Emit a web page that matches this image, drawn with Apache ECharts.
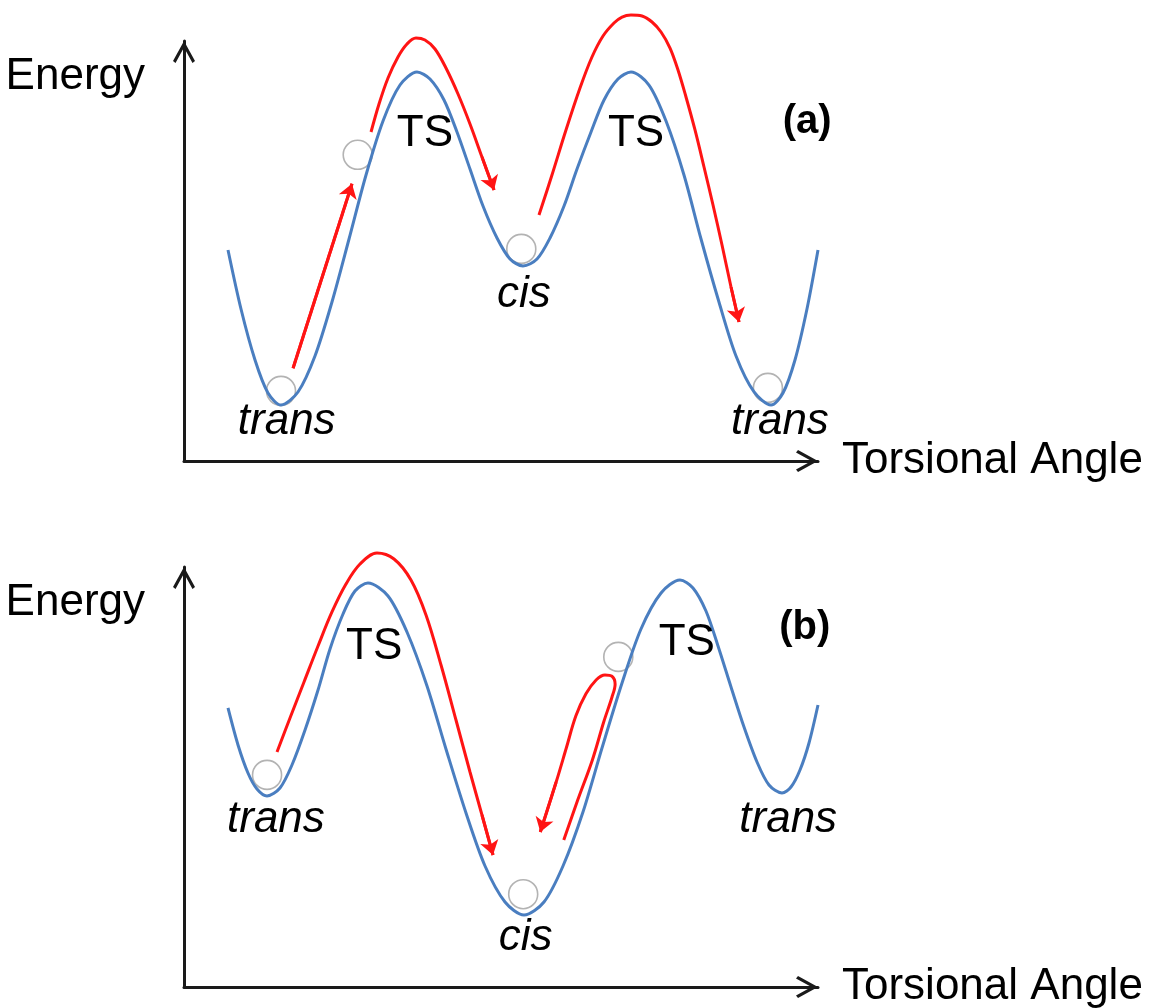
<!DOCTYPE html>
<html>
<head>
<meta charset="utf-8">
<script src="https://cdn.jsdelivr.net/npm/echarts/dist/echarts.min.js"></script>
<style>
html,body{margin:0;padding:0;background:#ffffff;}
#main{width:1149px;height:1008px;}
</style>
</head>
<body>
<div id="main"></div>
<script>
// ---------- Panel (a): torsional angle (0-100) vs energy (0-100) ----------
const curveA = [
  [6.94,50.24],[8.99,36.19],[11.20,24.05],[13.25,16.19],[15.30,13.33],
  [17.98,16.43],[20.66,25.00],[23.34,37.86],[26.03,52.86],[28.71,68.10],[31.39,80.95],
  [34.07,89.52],[36.75,92.62],
  [38.80,90.95],[41.01,85.95],[43.06,78.33],[45.11,69.52],[47.16,60.71],[49.37,53.10],
  [51.42,48.10],[53.47,46.43],
  [55.68,48.10],[57.73,53.10],[59.94,60.71],[61.99,69.52],[64.20,78.33],[66.25,85.95],
  [68.45,90.95],[70.50,92.62],
  [73.34,89.52],[76.03,80.95],[78.86,68.10],[81.55,52.86],[84.38,37.86],[87.07,25.00],
  [89.91,16.43],[92.59,13.33],
  [94.48,16.19],[96.37,24.05],[98.26,36.19],[100.0,50.24]
];
const arrowA1 = [[17.2,22.1],[26.5,66.0]];
const arrowA2 = [[29.50,78.33],[30.76,85.00],[32.18,91.19],[33.75,96.19],[35.17,99.29],
  [36.59,100.71],[38.01,100.24],[39.59,98.10],[41.32,93.57],[43.22,87.38],[45.11,80.24],
  [47.00,72.38],[48.90,64.52]];
const arrowA3 = [[55.99,58.57],[58.04,68.10],[60.25,78.81],[62.46,88.81],[64.35,96.19],
  [66.09,101.19],[67.82,104.29],[69.09,105.71],[70.50,106.19],[72.24,105.95],[73.82,104.52],
  [75.24,102.14],[76.66,98.33],[77.92,93.10],[79.18,86.67],[80.60,78.81],[82.02,70.00],
  [83.44,60.95],[84.86,51.43],[86.28,41.43],[87.54,33.10]];
const ballsA = [[15.3,16.7],[27.4,72.9],[53.2,50.5],[92.1,17.4]];
const statesA = [[16.2,9.3,'trans'],[53.6,39.5,'cis'],[94.0,9.3,'trans']];
const tsA = [[38.0,77.9,'TS'],[71.3,77.9,'TS']];
const tagA = [[98.3,80.7,'(a)']];

// ---------- Panel (b) ----------
const curveB = [
  [6.94,66.43],[8.52,57.62],[10.09,50.95],[11.51,47.14],[13.09,45.48],
  [15.14,47.38],[17.03,52.86],[19.09,61.19],[21.14,70.71],[23.03,80.48],[25.08,88.81],
  [26.97,94.29],[29.02,96.19],
  [32.18,93.10],[35.17,84.52],[38.33,71.67],[41.32,56.67],[44.48,41.43],[47.48,28.81],
  [50.63,20.24],[53.63,17.14],
  [56.78,20.24],[59.78,28.81],[62.93,41.67],[65.93,56.90],[69.09,72.38],[72.08,85.24],
  [75.24,93.81],[78.23,96.90],
  [80.28,95.00],[82.33,89.52],[84.23,81.19],[86.28,71.43],[88.33,61.90],[90.38,53.57],
  [92.27,48.10],[94.32,46.19],
  [95.74,47.62],[97.16,51.67],[98.58,58.10],[100.0,67.14]
];
const arrowB1 = [[14.67,55.95],[16.72,64.05],[18.93,72.62],[21.14,81.19],[23.34,89.29],
  [25.55,95.95],[27.76,100.71],[30.44,103.33],[33.12,101.90],[35.80,96.90],[38.17,88.57],
  [40.54,76.67],[42.90,63.57],[45.11,51.19],[47.00,40.95],[48.74,31.43]];
const arrowB2 = [[59.9,35.0],[62.1,44.5],[64.4,54.0],[66.2,63.1],[67.5,69.0],
  [68.0,72.1],[67.5,74.0],[66.4,74.3],[65.0,73.1],[63.4,69.8],[61.8,64.5],
  [60.3,56.9],[58.7,48.8],[56.2,36.9]];
const ballsB = [[13.1,50.5],[53.5,22.1],[68.5,78.6]];
const statesB = [[14.5,39.8,'trans'],[53.9,11.7,'cis'],[95.3,39.8,'trans']];
const tsB = [[30.0,81.0,'TS'],[79.3,81.9,'TS']];
const tagB = [[97.9,85.5,'(b)']];

const axisNames = { x: 'Torsional Angle', y: 'Energy' };

// ---------- styles ----------
const FONT = 'Liberation Sans, Arial, Helvetica, sans-serif';
const BLUE = '#4a7ec0';
const RED = '#ff1414';
const AXIS = '#1a1a1a';
const TEXT = '#000000';
const chevron = 'path://M11,0 L22,20 L19.5,22 L11,6.5 L2.5,22 L0,20 Z';

const panels = [
  {curve: curveA, arrows: [arrowA1, arrowA2, arrowA3], balls: ballsA, states: statesA, ts: tsA, tag: tagA, top: 41},
  {curve: curveB, arrows: [arrowB1, arrowB2], balls: ballsB, states: statesB, ts: tsB, tag: tagB, top: 567}
];

const grids = [], xAxes = [], yAxes = [], series = [];
const axisLineStyle = {
  show: true, onZero: false,
  lineStyle: {color: AXIS, width: 3},
  symbol: ['none', chevron], symbolSize: [22, 22], symbolOffset: [0, -11]
};
const labelSeries = (data, i, style) => ({
  type: 'scatter', xAxisIndex: i, yAxisIndex: i, data: data,
  symbolSize: 0, itemStyle: {color: TEXT, opacity: 1}, silent: true, clip: false, z: 5,
  label: Object.assign({show: true, position: 'inside', formatter: p => p.data[2],
    fontFamily: FONT, color: TEXT, opacity: 1, textBorderWidth: 0}, style)
});

panels.forEach((p, i) => {
  grids.push({left: 184, top: p.top, width: 634, height: 420, containLabel: false, outerBoundsMode: 'none'});
  xAxes.push({
    type: 'value', gridIndex: i, min: 0, max: 100,
    axisLine: axisLineStyle, axisTick: {show: false}, axisLabel: {show: false}, splitLine: {show: false},
    name: axisNames.x, nameLocation: 'end', nameGap: 24, nameMoveOverlap: false,
    nameTextStyle: {fontFamily: FONT, fontSize: 44, color: TEXT, align: 'left', verticalAlign: 'middle',
      padding: i === 0 ? [0, 0, 6, 0] : [0, 0, 10, 0]}
  });
  yAxes.push({
    type: 'value', gridIndex: i, min: 0, max: 100,
    axisLine: axisLineStyle, axisTick: {show: false}, axisLabel: {show: false}, splitLine: {show: false},
    name: axisNames.y, nameLocation: 'end', nameGap: -36, nameMoveOverlap: false,
    nameTextStyle: {fontFamily: FONT, fontSize: 44, color: TEXT, align: 'right', verticalAlign: 'middle',
      padding: [0, 39, 0, 0]}
  });
  series.push({
    type: 'scatter', xAxisIndex: i, yAxisIndex: i, data: p.balls, symbol: 'circle', symbolSize: 29,
    itemStyle: {color: 'rgba(255,255,255,0)', borderColor: '#b3b3b3', borderWidth: 1.6, opacity: 1},
    silent: true, clip: false, z: 1
  });
  series.push({
    type: 'line', xAxisIndex: i, yAxisIndex: i, data: p.curve, smooth: 0.3, showSymbol: false,
    lineStyle: {color: BLUE, width: 3}, silent: true, clip: false, z: 2
  });
  p.arrows.forEach(a => {
    series.push({
      type: 'line', xAxisIndex: i, yAxisIndex: i, data: a, smooth: 0.35, showSymbol: false,
      lineStyle: {color: RED, width: 3}, silent: true, clip: false, z: 3
    });
  });
  series.push({
    type: 'lines', coordinateSystem: 'cartesian2d', xAxisIndex: i, yAxisIndex: i,
    data: p.arrows.map(a => ({coords: [a[a.length - 2], a[a.length - 1]]})),
    symbol: ['none', 'arrow'], symbolSize: [1, 14],
    lineStyle: {color: RED, width: 3, opacity: 1}, silent: true, clip: false, z: 3
  });
  series.push(labelSeries(p.states, i, {fontSize: 44, fontStyle: 'italic'}));
  series.push(labelSeries(p.ts, i, {fontSize: 44}));
  series.push(labelSeries(p.tag, i, {fontSize: 40, fontWeight: 'bold'}));
});

const chart = echarts.init(document.getElementById('main'), null, {renderer: 'canvas'});
chart.setOption({
  animation: false,
  backgroundColor: '#ffffff',
  grid: grids, xAxis: xAxes, yAxis: yAxes, series: series
});
</script>
</body>
</html>
